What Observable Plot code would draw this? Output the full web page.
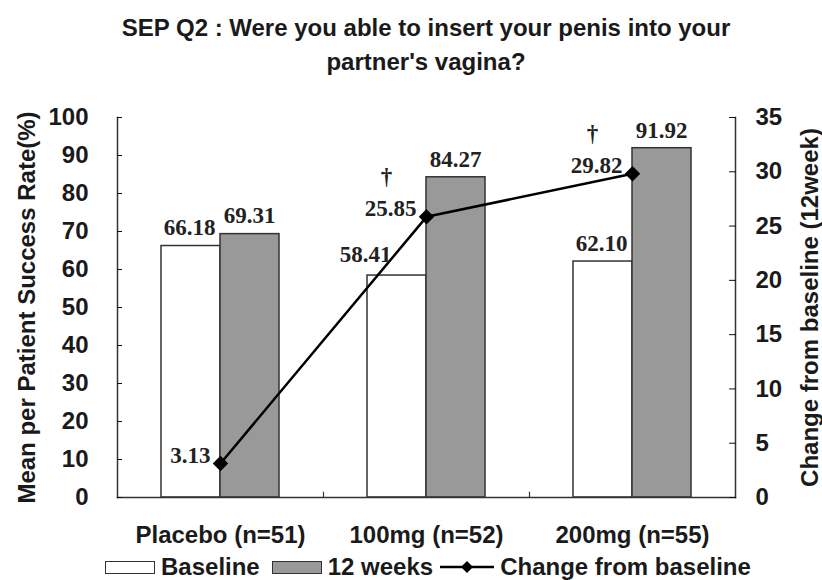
<!DOCTYPE html>
<html>
<head>
<meta charset="utf-8">
<script src="https://cdn.jsdelivr.net/npm/d3@7"></script>
<script src="https://cdn.jsdelivr.net/npm/@observablehq/plot@0.6"></script>
<style>
  html, body { margin: 0; padding: 0; background: #fff; }
  body { width: 822px; height: 580px; overflow: hidden; font-family: "Liberation Sans", Arial, sans-serif; color: #111; }
  #title { box-sizing: border-box; height: 80px; padding: 11px 87px 0 117px; text-align: center;
           font-family: "Liberation Sans", Arial, sans-serif;
           font-weight: bold; font-size: 24px; line-height: 34px; color: #1a1a1a; }
  #legend { display: flex; align-items: center; height: 30px; padding-left: 105px; margin-top: 2px;
            font-weight: bold; font-size: 24px; white-space: nowrap; color: #1a1a1a; }
  .sw { display: inline-block; width: 48px; height: 11px; border: 1.5px solid #333; margin-right: 6px; }
</style>
</head>
<body>
<div id="title">SEP Q2 : Were you able to insert your penis into your<br>partner's vagina?</div>
<div id="chart"></div>
<div id="legend"></div>
<script>
const categories = ["Placebo (n=51)", "100mg (n=52)", "200mg (n=55)"];
const baseline = [66.18, 58.41, 62.10];
const week12 = [69.31, 84.27, 91.92];
const change = [3.13, 25.85, 29.82];
const baselineLabels = ["66.18", "58.41", "62.10"];
const week12Labels = ["69.31", "84.27", "91.92"];
const changeLabels = ["3.13", "25.85", "29.82"];
const significance = ["", "\u2020", "\u2020"];
const leftTicks = [0, 10, 20, 30, 40, 50, 60, 70, 80, 90, 100];
const rightTicks = [0, 5, 10, 15, 20, 25, 30, 35];
const seriesNames = ["Baseline", "12 weeks", "Change from baseline"];
const leftTitle = "Mean per Patient Success Rate(%)";
const rightTitle = "Change from baseline (12week)";

const leftMax = 100, rightMax = 35;
const k = leftMax / rightMax; // maps right-axis values onto the left scale

const rows = categories.map((c, i) => ({
  cat: c, baseline: baseline[i], week12: week12[i], change: change[i],
  bl: baselineLabels[i], wl: week12Labels[i], cl: changeLabels[i], sig: significance[i], i
}));

const W = 822, H = 470, mL = 117, mR = 87, mT = 37, mB = 53;
const bw = (W - mL - mR) / categories.length;
const barW = 59;
const half = bw / 2;

const valFont = {fontFamily: "Liberation Serif, Times New Roman, serif", fontWeight: "bold", fontSize: 23, fill: "#222"};
const tickFont = {fontSize: 24, fontWeight: "bold", fontFamily: "Liberation Sans, Arial, sans-serif", fill: "#1a1a1a"};

const chart = Plot.plot({
  width: W, height: H,
  marginLeft: mL, marginRight: mR, marginTop: mT, marginBottom: mB,
  style: {fontFamily: "Liberation Sans, Arial, sans-serif", color: "#111", background: "#fff"},
  x: {type: "band", domain: categories, padding: 0},
  y: {domain: [0, leftMax]},
  marks: [
    Plot.barY(rows, {x: "cat", y: "baseline", fill: "white", stroke: "#333", strokeWidth: 1.5,
      insetLeft: half - barW, insetRight: half}),
    Plot.barY(rows, {x: "cat", y: "week12", fill: "#999999", stroke: "#333", strokeWidth: 1.5,
      insetLeft: half, insetRight: half - barW}),
    Plot.frame({anchor: "left", stroke: "#333", strokeWidth: 1.5}),
    Plot.frame({anchor: "right", stroke: "#333", strokeWidth: 1.5}),
    Plot.frame({anchor: "bottom", stroke: "#333", strokeWidth: 1.5}),
    Plot.ruleX(categories.slice(1), {y1: 0, y2: 1.4, dx: -half, stroke: "#333", strokeWidth: 1.2}),
    Plot.axisY(leftTicks, {anchor: "left", tickSize: -5, tickPadding: 34, label: null, ...tickFont}),
    Plot.axisY(rightTicks.map(v => v * k), {anchor: "right", tickSize: -7, tickPadding: 27, label: null,
      tickFormat: d => String(Math.round(d / k)), ...tickFont}),
    Plot.axisX({anchor: "bottom", tickSize: 0, tickPadding: 28, label: null, ...tickFont}),
    Plot.text([leftTitle], {frameAnchor: "left", rotate: -90, dx: -90, text: d => d, textAnchor: "middle",
      lineAnchor: "middle", fontSize: 24, fontWeight: "bold", fill: "#1a1a1a"}),
    Plot.text([rightTitle], {frameAnchor: "right", rotate: -90, dx: 75, text: d => d, textAnchor: "middle",
      lineAnchor: "middle", fontSize: 24, fontWeight: "bold", fill: "#1a1a1a"}),
    Plot.line(rows, {x: "cat", y: d => d.change * k, stroke: "#000", strokeWidth: 2.5}),
    Plot.dot(rows, {x: "cat", y: d => d.change * k, symbol: "diamond2", r: 6, fill: "#000", stroke: "#000"}),
    Plot.text(rows.filter(d => d.i !== 1), {x: "cat", y: "baseline", text: "bl", dx: -31, dy: -18, ...valFont}),
    Plot.text(rows.filter(d => d.i === 1), {x: "cat", y: "baseline", text: "bl", dx: -61, dy: -21, ...valFont}),
    Plot.text(rows, {x: "cat", y: "week12", text: "wl", dx: 29, dy: -18, ...valFont}),
    Plot.text(rows, {x: "cat", y: d => d.change * k, text: "cl", textAnchor: "end", dx: -10, dy: -8, ...valFont}),
    Plot.text(rows, {x: "cat", y: d => d.change * k, text: "sig", dx: -40, dy: -40, ...valFont})
  ]
});
document.getElementById("chart").appendChild(chart);

const legend = document.getElementById("legend");
legend.innerHTML =
  `<span class="sw" style="background:#fff"></span><span>${seriesNames[0]}</span>` +
  `<span class="sw" style="background:#999;margin-left:12px"></span><span>${seriesNames[1]}</span>` +
  `<svg width="56" height="14" style="margin:0 4px 0 7px"><line x1="0" y1="7" x2="54" y2="7" stroke="#000" stroke-width="2.5"/>` +
  `<path d="M27,1 L33,7 L27,13 L21,7 Z" fill="#000"/></svg><span>${seriesNames[2]}</span>`;
</script>
</body>
</html>
